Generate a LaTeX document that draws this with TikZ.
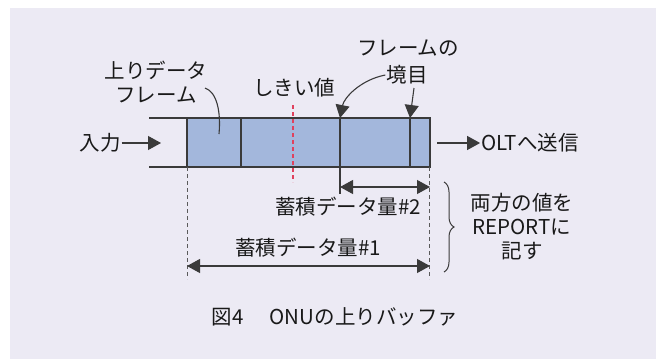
\documentclass[tikz,border=0pt]{standalone}
\usepackage{fontspec}
\setmainfont{Noto Sans CJK JP}
\usetikzlibrary{arrows.meta,decorations.pathreplacing}
\definecolor{bgc}{HTML}{ECEAF4}
\definecolor{bufc}{HTML}{A3B7DC}
\definecolor{linec}{HTML}{3A3A3A}
\definecolor{redc}{HTML}{E0415E}
\definecolor{dashc}{HTML}{5A5A5A}
\tikzset{
  lbl/.style={inner sep=1pt, font=\fontsize{20.5}{24}\selectfont, text=black!90},
  ln/.style={draw=linec, line width=1.1pt},
  arr/.style={ln, -{Triangle[length=13pt,width=14pt]}},
  darr/.style={ln, {Triangle[length=13pt,width=14pt]}-{Triangle[length=13pt,width=14pt]}},
  guide/.style={draw=dashc, line width=1pt, dash pattern=on 4pt off 3pt},
}
\begin{document}
\begin{tikzpicture}[x=1pt,y=-1pt]
\useasboundingbox (0,0) rectangle (656,359);
\fill[bgc] (10,8) rectangle (656,359);

% buffer
\fill[bufc] (187,118) rectangle (430,167);
\draw[ln] (149,118) -- (430,118) -- (430,167) -- (149,167);
\draw[ln] (187,118) -- (187,167);
\draw[ln] (241,118) -- (241,167);
\draw[ln] (340,118) -- (340,167);
\draw[ln] (410,118) -- (410,167);

% threshold
\draw[redc, line width=1.2pt, dash pattern=on 4pt off 3pt] (293,105) -- (293,182);

% guides
\draw[guide] (187,167) -- (187,279);
\draw[guide] (429.5,167) -- (429.5,279);
\draw[ln] (340,167) -- (340,194);

% labels
\node[lbl] (in) at (100,143) {入力};
\coordinate (inend) at (161,143);
\draw[arr] (in) -- (inend);

\node[lbl] (out) at (530,143) {OLTへ送信};
\coordinate (outstart) at (437,143);
\draw[arr] (outstart) -- (out);

\node[lbl] (up1) at (156,70) {上りデータ};
\node[lbl] (up2) at (156,95) {フレーム};
\coordinate (upA) at (205,88);
\coordinate (upB) at (219,134);
\draw[ln] (upA) .. controls (217,92) and (221,112) .. (upB);

\node[lbl] (thr) at (294,88) {しきい値};

\node[lbl] (fb1) at (408,48) {フレームの};
\node[lbl] (fb2) at (407,75) {境目};
\coordinate (fbA) at (340,118);
\coordinate (fbB) at (410,118);
\coordinate (fbS) at (414,88);
\draw[arr] (fb2.west) .. controls (360,80) and (344,98) .. (fbA);
\draw[arr] (fbS) -- (fbB);

% dimensions
\coordinate (d2a) at (340,187);
\coordinate (d2b) at (430,187);
\draw[darr] (d2a) -- (d2b);
\node[lbl] (d2) at (348,207) {蓄積データ量\#2};

\coordinate (d1a) at (187,266);
\coordinate (d1b) at (430,266);
\draw[darr] (d1a) -- (d1b);
\node[lbl] (d1) at (308,248) {蓄積データ量\#1};

% brace
\coordinate (brA) at (444,182);
\coordinate (brB) at (444,272);
\draw[linec, line width=1pt, decorate, decoration={brace, amplitude=10pt}] (brA) -- (brB);
\node[lbl, align=center] (rep) at (522,227) {両方の値を\\REPORTに\\記す};

% caption
\node[lbl] (cap) at (335,317) {図4\hspace{26pt}ONUの上りバッファ};
\end{tikzpicture}
\end{document}
